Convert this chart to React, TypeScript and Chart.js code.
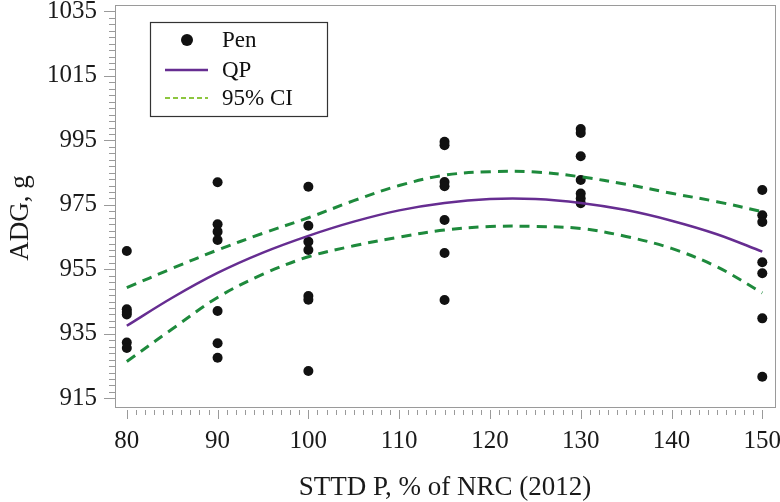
import React, { useEffect, useRef } from "react";
import { Chart, registerables } from "chart.js";

Chart.register(...registerables);

// Pen observations (ADG, g) at each STTD P level (% of NRC 2012)
const penDoses = [80, 90, 100, 115, 130, 150];
const pen80 = [960.7, 942.6, 941.8, 941.0, 932.3, 930.6];
const pen90 = [982.0, 969.0, 966.7, 964.1, 942.1, 932.1, 927.6];
const pen100 = [980.6, 968.5, 963.6, 961.0, 946.7, 945.6, 923.5];
const pen115 = [994.6, 993.5, 982.1, 980.8, 970.3, 960.1, 945.5];
const pen130 = [998.5, 997.3, 990.1, 982.7, 978.5, 977.0, 975.5];
const pen150 = [979.6, 971.8, 969.7, 957.2, 953.8, 939.8, 921.7];
const penGroups = [pen80, pen90, pen100, pen115, pen130, pen150];

// Fitted QP curve and 95% CI
const curveX = [80, 85, 90, 95, 100, 105, 110, 115, 120, 125, 130, 135, 140, 145, 150];
const qpY = [937.5, 946.2, 953.9, 960.2, 965.4, 969.8, 973.3, 975.6, 976.8, 976.8, 975.6, 973.4, 970.1, 965.9, 960.5];
const ciUpper = [949.3, 955.3, 961.0, 966.2, 971.0, 976.3, 981.0, 984.2, 985.3, 985.2, 983.7, 981.4, 978.6, 976.0, 972.9];
const ciLower = [926.4, 936.5, 946.3, 953.5, 958.9, 962.3, 965.0, 967.2, 968.3, 968.3, 967.7, 965.2, 961.5, 955.8, 947.7];

// Axis ticks
const xTicks = [80, 90, 100, 110, 120, 130, 140, 150];
const yTicks = [915, 935, 955, 975, 995, 1015, 1035];
const xMinorStep = 1;
const yMinorStep = 2;

const xTitle = "STTD P, % of NRC (2012)";
const yTitle = "ADG, g";
const legendLabels = ["Pen", "QP", "95% CI"];

const SERIF = "'Liberation Serif', 'Times New Roman', serif";
const PURPLE = "#662d91";
const GREEN = "#1e8a3c";
const LEGEND_GREEN = "#8dc63f";
const FRAME = "#9a9a9a";

const decorPlugin = {
  id: "decor",
  afterDraw(chart: any) {
    const { ctx, chartArea, scales } = chart;
    const xs = scales.x;
    const ys = scales.y;
    ctx.save();
    // frame
    ctx.strokeStyle = FRAME;
    ctx.lineWidth = 1;
    ctx.strokeRect(
      Math.round(chartArea.left) + 0.5,
      Math.round(chartArea.top) + 0.5,
      Math.round(chartArea.right - chartArea.left),
      Math.round(chartArea.bottom - chartArea.top)
    );
    // x ticks
    const bottom = Math.round(chartArea.bottom);
    ctx.beginPath();
    for (let v = xTicks[0]; v <= xTicks[xTicks.length - 1] + 1e-9; v += xMinorStep) {
      const px = Math.round(xs.getPixelForValue(v)) + 0.5;
      const major = xTicks.includes(v);
      ctx.moveTo(px, bottom + 3);
      ctx.lineTo(px, bottom + (major ? 12 : 8));
    }
    // y ticks
    const left = Math.round(chartArea.left);
    for (let v = yTicks[0]; v <= yTicks[yTicks.length - 1] + 1e-9; v += yMinorStep) {
      const py = Math.round(ys.getPixelForValue(v)) + 0.5;
      const major = yTicks.includes(v);
      ctx.moveTo(left, py);
      ctx.lineTo(left - (major ? 11 : 6), py);
    }
    ctx.stroke();

    // axis titles
    ctx.fillStyle = "#1a1a1a";
    ctx.font = `27px ${SERIF}`;
    ctx.textAlign = "center";
    ctx.textBaseline = "middle";
    ctx.fillText(xTitle, (chartArea.left + chartArea.right) / 2, 488);
    ctx.save();
    ctx.translate(21, 218);
    ctx.rotate(-Math.PI / 2);
    ctx.fillText(yTitle, 0, 0);
    ctx.restore();

    // legend
    const bx = 150, by = 22, bw = 177, bh = 94;
    ctx.fillStyle = "#ffffff";
    ctx.fillRect(bx, by, bw, bh);
    ctx.strokeStyle = "#333333";
    ctx.lineWidth = 1.2;
    ctx.strokeRect(bx + 0.5, by + 0.5, bw, bh);
    const rows = [40, 70, 98];
    // dot
    ctx.fillStyle = "#111111";
    ctx.beginPath();
    ctx.arc(187, rows[0], 6, 0, Math.PI * 2);
    ctx.fill();
    // QP line
    ctx.strokeStyle = PURPLE;
    ctx.lineWidth = 2.5;
    ctx.beginPath();
    ctx.moveTo(165, rows[1]);
    ctx.lineTo(208, rows[1]);
    ctx.stroke();
    // CI line
    ctx.strokeStyle = LEGEND_GREEN;
    ctx.lineWidth = 2;
    ctx.setLineDash([5, 3]);
    ctx.beginPath();
    ctx.moveTo(165, rows[2]);
    ctx.lineTo(208, rows[2]);
    ctx.stroke();
    ctx.setLineDash([]);
    ctx.fillStyle = "#111111";
    ctx.font = `23px ${SERIF}`;
    ctx.textAlign = "left";
    ctx.textBaseline = "middle";
    legendLabels.forEach((t, i) => ctx.fillText(t, 222, rows[i] + 1));
    ctx.restore();
  },
};

export default function App() {
  const ref = useRef<HTMLCanvasElement | null>(null);
  useEffect(() => {
    if (!ref.current) return;
    const pens: { x: number; y: number }[] = [];
    penDoses.forEach((d, i) => penGroups[i].forEach((v) => pens.push({ x: d, y: v })));
    const line = (ys: number[]) => curveX.map((x, i) => ({ x, y: ys[i] }));
    const chart = new Chart(ref.current, {
      type: "scatter",
      data: {
        datasets: [
          {
            type: "line",
            label: "95% CI upper",
            data: line(ciUpper),
            borderColor: GREEN,
            borderWidth: 3,
            borderDash: [10, 7],
            pointRadius: 0,
            tension: 0.35,
            fill: false,
          },
          {
            type: "line",
            label: "95% CI lower",
            data: line(ciLower),
            borderColor: GREEN,
            borderWidth: 3,
            borderDash: [10, 7],
            pointRadius: 0,
            tension: 0.35,
            fill: false,
          },
          {
            type: "line",
            label: "QP",
            data: line(qpY),
            borderColor: PURPLE,
            borderWidth: 2.5,
            pointRadius: 0,
            tension: 0.35,
            fill: false,
          },
          {
            label: "Pen",
            data: pens,
            backgroundColor: "#111111",
            borderColor: "#111111",
            borderWidth: 0,
            pointRadius: 5,
          },
        ],
      } as any,
      options: {
        animation: false,
        responsive: true,
        maintainAspectRatio: false,
        layout: { padding: { top: 5, right: 5, left: 0, bottom: 0 } },
        plugins: { legend: { display: false }, tooltip: { enabled: false } },
        scales: {
          x: {
            type: "linear",
            min: 78.7,
            max: 151.4,
            grid: { display: false, drawTicks: false },
            border: { display: false },
            afterBuildTicks: (s: any) => {
              s.ticks = xTicks.map((v) => ({ value: v }));
            },
            afterFit: (s: any) => {
              s.height = 95.3;
              s.paddingLeft = 0;
              s.paddingRight = 0;
            },
            ticks: {
              font: { family: SERIF, size: 25 },
              color: "#1a1a1a",
              padding: 20,
              maxRotation: 0,
              autoSkip: false,
              callback: (v: any) => String(v),
            },
          },
          y: {
            type: "linear",
            min: 912.4,
            max: 1037,
            grid: { display: false, drawTicks: false },
            border: { display: false },
            afterBuildTicks: (s: any) => {
              s.ticks = yTicks.map((v) => ({ value: v }));
            },
            afterFit: (s: any) => {
              s.width = 115;
              s.paddingTop = 0;
              s.paddingBottom = 0;
            },
            ticks: {
              font: { family: SERIF, size: 25 },
              color: "#1a1a1a",
              padding: 18,
              autoSkip: false,
              callback: (v: any) => String(v),
            },
          },
        },
      } as any,
      plugins: [decorPlugin],
    });
    return () => chart.destroy();
  }, []);
  return (
    <div style={{ position: "fixed", left: 0, top: 0, width: 780, height: 502, background: "#fff" }}>
      <canvas ref={ref} />
    </div>
  );
}
